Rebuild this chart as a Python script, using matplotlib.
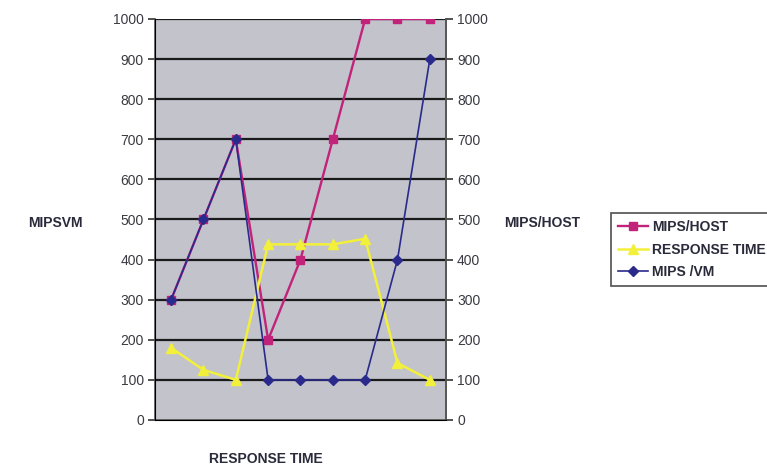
import numpy as np
import matplotlib
matplotlib.use('Agg')
import matplotlib.pyplot as plt

plt.rcParams['font.family'] = ['Liberation Sans Narrow', 'Liberation Sans', 'DejaVu Sans']

x = np.arange(9)
mips_host = [300, 500, 700, 200, 400, 700, 1000, 1000, 1000]
resp_time = [180, 125, 100, 438, 438, 438, 452, 142, 100]
mips_vm = [300, 500, 700, 100, 100, 100, 100, 400, 900]
yticks = list(range(0, 1001, 100))

fig = plt.figure(figsize=(7.67, 4.69), dpi=100)
ax = fig.add_axes([0.202, 0.1045, 0.3795, 0.855])
ax.set_facecolor('#c2c3cb')

ax.plot(x, mips_host, color='#c2237a', lw=1.7, marker='s', ms=5.5, label='MIPS/HOST', zorder=3)
ax.plot(x, resp_time, color='#f2f03a', lw=1.8, marker='^', ms=7.5, label='RESPONSE TIME', zorder=3)
ax.plot(x, mips_vm, color='#2a2a8c', lw=1.2, marker='D', ms=5.5, label='MIPS /VM', zorder=4)

ax.set_xlim(-0.5, 8.5)
ax.set_ylim(0, 1000)
ax.set_xticks([])
ax.set_yticks(yticks)
for t in yticks[1:]:
    ax.axhline(t, color='#1a1a1a', lw=1.6, zorder=1)

for s in ['left', 'right', 'bottom']:
    ax.spines[s].set_color('#555555')
    ax.spines[s].set_linewidth(1.2)
ax.spines['top'].set_visible(False)
ax.tick_params(axis='y', direction='out', length=5, width=1.2, color='#333333',
               labelsize=10, labelcolor='#3a3a44', pad=3)

ax2 = ax.twinx()
ax2.set_ylim(0, 1000)
ax2.set_yticks(yticks)
ax2.spines['top'].set_visible(False)
ax2.spines['right'].set_color('#555555')
ax2.spines['right'].set_linewidth(1.2)
ax2.tick_params(axis='y', direction='out', length=5, width=1.2, color='#333333',
                labelsize=10, labelcolor='#3a3a44', pad=3)

fig.text(0.072, 0.525, 'MIPSVM', fontsize=10, fontweight='bold', color='#2a2a3a', va='center', ha='center')
fig.text(0.707, 0.525, 'MIPS/HOST', fontsize=10, fontweight='bold', color='#2a2a3a', va='center', ha='center')
fig.text(0.347, 0.022, 'RESPONSE TIME', fontsize=10, fontweight='bold', color='#2a2a3a', va='center', ha='center')

leg = fig.legend(loc='upper left', bbox_to_anchor=(0.787, 0.56), frameon=True, fancybox=False,
                 prop={'weight': 'bold', 'size': 10}, handlelength=2.2, borderpad=0.5,
                 labelspacing=0.6, handletextpad=0.3)
leg.get_frame().set_edgecolor('#222222')
leg.get_frame().set_linewidth(1.2)
for t in leg.get_texts():
    t.set_color('#2a2a3a')

fig.savefig('out.png', dpi=100)
